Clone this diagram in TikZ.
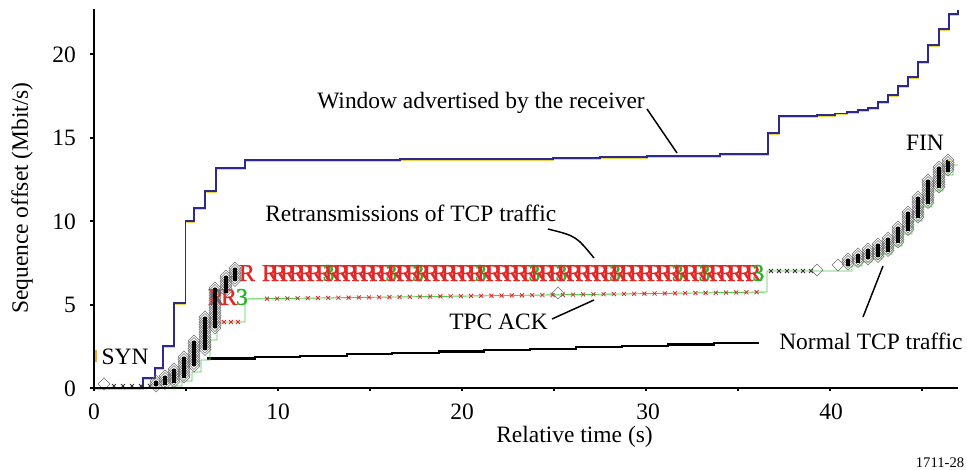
\documentclass[tikz,border=0pt]{standalone}
\usepackage{fontspec}
\setmainfont{Liberation Serif}
\definecolor{winblue}{RGB}{46,42,140}
\definecolor{fringe}{RGB}{235,215,70}
\definecolor{rred}{RGB}{228,38,38}
\definecolor{rgreen}{RGB}{40,180,40}
\definecolor{ackgreen}{RGB}{80,200,80}
\definecolor{dgray}{RGB}{110,110,110}
\definecolor{synorange}{RGB}{240,170,60}

% one column of overlapping diamond markers with a dark core
\newcommand\dcol[3]{%
  \pgfmathsetmacro\dtop{#2}%
  \pgfmathsetmacro\dnext{#2+2.5}%
  \foreach \yy in {\dtop,\dnext,...,#3}{%
    \draw[dmark] (#1-6,\yy) -- (#1,\yy-6) -- (#1+6,\yy) -- (#1,\yy+6) -- cycle;}%
  \draw[dcore] (#1,#2) -- (#1,#3);}
% a single diamond marker
\newcommand\dia[2]{%
  \draw[dmark] (#1-6,#2) -- (#1,#2-6) -- (#1+6,#2) -- (#1,#2+6) -- cycle;}
% a small cross marker
\newcommand\xm[3][xmk]{%
  \draw[#1] (#2-2,#3-2) -- (#2+2,#3+2) (#2-2,#3+2) -- (#2+2,#3-2);}

% receiver window, in pixel-like units
\newcommand\winpath{(94,388) -- (143,388) -- (143,378) -- (155,378) -- (155,368)
  -- (163,368) -- (163,346) -- (174,346) -- (174,303) -- (185.5,303)
  -- (185.5,221) -- (194,221) -- (194,208) -- (205,208) -- (205,191)
  -- (216,191) -- (216,168) -- (245,168) -- (245,160) -- (400,160)
  -- (400,159) -- (553,159) -- (553,158) -- (600,158) -- (600,157)
  -- (647,157) -- (647,156) -- (720,156) -- (720,154) -- (768,154)
  -- (768,133) -- (779,133) -- (779,116) -- (817,116) -- (817,115)
  -- (835,115) -- (835,113.5) -- (847,113.5) -- (847,112) -- (858,112)
  -- (858,110) -- (868,110) -- (868,108) -- (878,108) -- (878,102)
  -- (888,102) -- (888,95) -- (898,95) -- (898,86) -- (908,86)
  -- (908,77) -- (918,77) -- (918,62) -- (928,62) -- (928,45)
  -- (939,45) -- (939,29) -- (949,29) -- (949,14) -- (958,14) -- (958,10)}

\begin{document}
\begin{tikzpicture}[x=0.75pt,y=-0.75pt,
  lbl/.style={font=\fontsize{17.6}{20}\selectfont, inner sep=0pt},
  small/.style={font=\fontsize{11}{12}\selectfont, inner sep=0pt},
  rmark/.style={font=\fontsize{18}{20}\selectfont\addfontfeature{FakeBold=1.2}, inner sep=0pt},
  axisline/.style={line width=1.5pt, black},
  tickmark/.style={line width=1pt, black},
  winline/.style={draw=winblue, line width=1.1pt, line join=miter},
  winfringe/.style={draw=fringe, line width=0.6pt},
  ackline/.style={draw=black, line width=1.6pt},
  callout/.style={draw=black, line width=1.1pt},
  grn/.style={draw=ackgreen, line width=0.7pt},
  xmk/.style={draw=rred, line width=0.6pt},
  xdark/.style={draw=black!80, line width=0.6pt},
  dmark/.style={draw=dgray, line width=0.45pt},
  dcore/.style={draw=black, line width=3pt},
  ]
\useasboundingbox (0,0) rectangle (967,469);
\fill[white] (0,0) rectangle (967,469);

% ---- receiver window -------------------------------------------------
\draw[winfringe, shift={(0,0.9)}] \winpath;
\draw[winline] \winpath;

% ---- acknowledged sequence (black staircase) --------------------------
\draw[ackline] (207,358.5) -- (255,358.5) -- (255,357.1) -- (300,357.1)
  -- (300,355.7) -- (347,355.7) -- (347,354.3) -- (392,354.3)
  -- (392,352.9) -- (439,352.9) -- (439,351.5) -- (484,351.5)
  -- (484,350.1) -- (530,350.1) -- (530,348.7) -- (576,348.7)
  -- (576,347.3) -- (622,347.3) -- (622,345.9) -- (668,345.9)
  -- (668,344.5) -- (714,344.5) -- (714,343.1) -- (759,343.1);

% ---- ACK trace (green) ------------------------------------------------
\draw[grn] (96,388) -- (172,388) -- (172,386) -- (182,386) -- (182,381)
  -- (192,381) -- (192,372) -- (201,372) -- (201,360) -- (210,360)
  -- (210,340) -- (217,340) -- (217,322) -- (245,322) -- (245,299)
  -- (767,292) -- (767,271) -- (852,271) -- (852,266) -- (862,266)
  -- (862,262) -- (872,262) -- (872,259) -- (882,259) -- (882,254)
  -- (892,254) -- (892,246) -- (902,246) -- (902,234) -- (912,234)
  -- (912,221) -- (922,221) -- (922,207) -- (932,207) -- (932,191)
  -- (943,191) -- (943,175) -- (953,175) -- (953,165) -- (958,165);
\xm{224}{322}\xm{231}{322}\xm{238}{322}
\foreach \i in {0,...,48}{%
  \pgfmathsetmacro\ax{267+10.2*\i}%
  \pgfmathsetmacro\ay{299-7*(\ax-245)/522}%
  \xm{\ax}{\ay}}
\foreach \i in {0,...,5}{\xm[xdark]{771+8*\i}{271}}
\foreach \i in {0,...,4}{\xm[xdark]{114+9*\i}{386}}
\draw[synorange, line width=1pt] (96,350) -- (96,362);

% ---- retransmissions (R) and triple duplicate ACKs (3) ---------------
\node[rmark,text=rred] (rr1) at (216,297) {R};
\node[rmark,text=rred] (rr2) at (229,297) {R};
\node[rmark,text=rgreen] (td0) at (242,297) {3};
\node[rmark,text=rred] (rfirst) at (247,273) {R};
\foreach \i in {0,...,54}{%
  \pgfmathsetmacro\rx{270+8.95*\i}%
  \node[rmark,text=rred] (rt\i) at (\rx,273) {R};
  \pgfmathtruncatemacro\isg{(\i==6)+(\i==13)+(\i==16)+(\i==23)+(\i==29)+(\i==32)+(\i==38)+(\i==45)+(\i==48)+(\i==54)}%
  \ifnum\isg>0
    \node[rmark,text=rgreen] (tg\i) at (\rx+5,273) {3};
  \fi}

% ---- data segments (diamond columns) ----------------------------------
\dia{104}{384}
\dcol{156}{381}{386}
\dcol{165}{376}{385}
\dcol{174}{369}{383}
\dcol{184}{357}{378}
\dcol{194}{341}{366}
\dcol{205}{317}{350}
\dcol{215}{288}{328}
\dcol{226}{276}{293}
\dcol{235}{268}{281}
\dia{558}{293}
\dia{817}{270}
\dia{838}{265}
\dcol{848}{259}{266}
\dcol{858}{254}{263}
\dcol{868}{249}{259}
\dcol{878}{244}{257}
\dcol{888}{238}{252}
\dcol{898}{227}{243}
\dcol{908}{212}{231}
\dcol{918}{197}{218}
\dcol{928}{180}{204}
\dcol{939}{167}{188}
\dcol{948}{160}{172}
\fill[fringe] (949,160) circle (1.5);

% ---- axes ---------------------------------------------------------------
\draw[axisline] (94,9) -- (94,389);
\draw[axisline] (93,388) -- (958,388);
\foreach \yy in {388,305,221,138,54}{\draw[tickmark] (94,\yy) -- (90,\yy);}
\foreach \k in {0,...,9}{\draw[tickmark] (94+92*\k,388) -- (94+92*\k,391);}
\node[lbl,anchor=east] (ty0) at (76,389) {0};
\node[lbl,anchor=east] (ty5) at (76,305) {5};
\node[lbl,anchor=east] (ty10) at (76,222) {10};
\node[lbl,anchor=east] (ty15) at (76,138) {15};
\node[lbl,anchor=east] (ty20) at (76,55) {20};
\node[lbl] (tx0) at (94,412) {0};
\node[lbl] (tx10) at (278,412) {10};
\node[lbl] (tx20) at (462,412) {20};
\node[lbl] (tx30) at (648,412) {30};
\node[lbl] (tx40) at (831,412) {40};
\node[lbl,anchor=east] (xlab) at (653,437) {Relative time (s)};
\node[lbl,rotate=90] (ylab) at (22,198) {Sequence offset (Mbit/s)};
\node[small,anchor=south] (fig) at (940,468) {1711-28};

% ---- annotations --------------------------------------------------------
\node[lbl] (syn) at (125,357) {SYN};
\node[lbl] (fin) at (925,143) {FIN};
\node[lbl,anchor=west] (wlab) at (317,103) {Window advertised by the receiver};
\coordinate (wfoot) at (647,109);
\coordinate (wtip) at (677,153);
\draw[callout] (wfoot) -- (wtip);
\node[lbl,anchor=west] (rlab) at (265,213) {Retransmissions of TCP traffic};
\coordinate (rfoot) at (548,229);
\coordinate (rtip) at (594,258);
\draw[callout] (rfoot) .. controls (576,236) .. (rtip);
\node[lbl,anchor=east] (alab) at (548,322) {TPC ACK};
\coordinate (afoot) at (552,319);
\coordinate (atip) at (594,300);
\draw[callout] (afoot) -- (atip);
\node[lbl,anchor=west] (nlab) at (779,341) {Normal TCP traffic};
\coordinate (nfoot) at (863,317);
\coordinate (ntip) at (883,266);
\draw[callout] (nfoot) -- (ntip);
\end{tikzpicture}
\end{document}
